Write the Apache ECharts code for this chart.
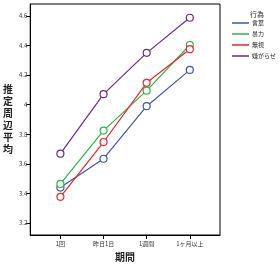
<!DOCTYPE html>
<html><head><meta charset="utf-8">
<script src="https://cdn.jsdelivr.net/npm/echarts@6/dist/echarts.min.js"></script>
<style>html,body{margin:0;padding:0;background:#fff}#c{width:280px;height:267px}</style>
</head><body><div id="c"></div>
<script>
const categories = ['1回', '昨日1日', '1週間', '1ヶ月以上'];
const seriesNames = ['言葉', '暴力', '無視', '嫌がらせ'];
const kotoba = [3.44, 3.635, 3.99, 4.235];
const bouryoku = [3.465, 3.825, 4.095, 4.403];
const mushi = [3.378, 3.748, 4.148, 4.375];
const iyagarase = [3.669, 4.071, 4.35, 4.587];
const yTicks = [3.2, 3.4, 3.6, 3.8, 4.0, 4.2, 4.4, 4.6];
const colors = ['#3e58ac', '#2db34a', '#e8262c', '#6b2c7f'];
const values = [kotoba, bouryoku, mushi, iyagarase];
const font = '"Noto Sans CJK JP", "Noto Sans", sans-serif';

const chart = echarts.init(document.getElementById('c'), null, {renderer: 'canvas'});
chart.setOption({
  animation: false,
  backgroundColor: '#fff',
  grid: {left: 26, right: 60, top: 4, bottom: 31, show: true, borderColor: '#000', borderWidth: 1, containLabel: false},
  title: [{
    text: '行為', left: 245, top: 6,
    textStyle: {fontSize: 7, fontWeight: 'normal', color: '#222', fontFamily: font}
  }],
  legend: {
    orient: 'vertical', left: 232, top: 19, itemWidth: 17, itemHeight: 1.5, itemGap: 3, padding: 0,
    icon: 'rect',
    data: seriesNames.map((n, i) => ({name: n, itemStyle: {color: colors[i], borderWidth: 0}})),
    textStyle: {fontSize: 6, color: '#222', fontFamily: font, padding: [0, 0, 0, -2], lineHeight: 8}
  },
  xAxis: {
    type: 'value', min: -0.7, max: 3.7,
    name: '期間', nameLocation: 'middle', nameGap: 17,
    nameTextStyle: {fontSize: 10, fontWeight: 'bold', color: '#222', fontFamily: font},
    splitLine: {show: false},
    axisLine: {onZero: false, lineStyle: {color: '#000', width: 1}},
    axisTick: {show: true, length: 4, lineStyle: {color: '#000'}, customValues: [0, 1, 2, 3]},
    axisLabel: {customValues: [0, 1, 2, 3], fontSize: 6, color: '#333', margin: 6, fontFamily: font,
      formatter: v => categories[Math.round(v)]}
  },
  yAxis: {
    type: 'value', min: 3.12, max: 4.68,
    name: '推\n定\n周\n辺\n平\n均', nameLocation: 'middle', nameGap: 16, nameRotate: 0,
    nameTextStyle: {fontSize: 10, fontWeight: 'bold', color: '#222', fontFamily: font, lineHeight: 12},
    splitLine: {show: false},
    axisLine: {show: true, onZero: false, lineStyle: {color: '#000', width: 1}},
    axisTick: {show: true, length: 4, lineStyle: {color: '#000'}, customValues: yTicks},
    axisLabel: {customValues: yTicks, fontSize: 6, color: '#333', margin: 3, fontFamily: font,
      formatter: v => String(Number(v.toFixed(1)))}
  },
  series: seriesNames.map((n, i) => ({
    name: n, type: 'line', color: colors[i],
    data: values[i].map((v, j) => [j, v]),
    symbol: 'circle', symbolSize: 7, showSymbol: true,
    itemStyle: {color: '#fff', borderColor: colors[i], borderWidth: 1.2},
    lineStyle: {color: colors[i], width: 1.2}
  }))
});
</script></body></html>
